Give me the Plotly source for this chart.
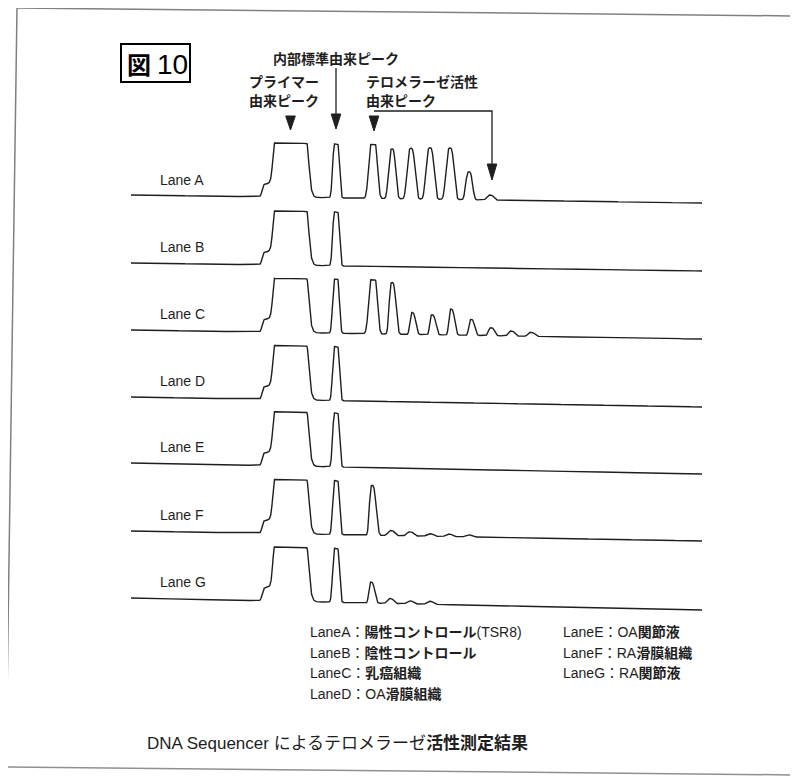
import numpy as np
import plotly.graph_objects as go

# ---------------- data ----------------
lanes = ["Lane A", "Lane B", "Lane C", "Lane D", "Lane E", "Lane F", "Lane G"]

# primer peak (saturated block) and its shoulder, migration position units
primer_rise = 273.5
primer_fall = 308.5
primer_shoulder_start = 262.0
primer_shoulder_height = 13.0
primer_height = 75.0

# internal standard peak
std_pos = 336.0
std_height = 64.0
std_sigma = 3.0

saturation = 54.0

# telomerase ladder peaks: positions, heights, widths (left / right)
tel_pos = {
    "Lane A": [373, 392, 411, 430, 450, 469, 490],
    "Lane B": [],
    "Lane C": [373, 392, 412, 432, 451, 471, 491, 511, 531],
    "Lane D": [],
    "Lane E": [],
    "Lane F": [372, 391, 410, 430, 449, 469],
    "Lane G": [371, 390, 410, 430],
}
tel_height = {
    "Lane A": [64, 50, 51, 52, 52, 28, 5],
    "Lane B": [],
    "Lane C": [64, 52, 22, 20, 26, 16, 8, 5, 4],
    "Lane D": [],
    "Lane E": [],
    "Lane F": [50, 5, 4, 2.5, 2.5, 2],
    "Lane G": [21, 5, 3, 3],
}
tel_width_left = {
    "Lane A": [4.0, 3.4, 3.8, 3.9, 3.9, 3.2, 3.2],
    "Lane B": [],
    "Lane C": [4.0, 2.8, 2.2, 2.2, 2.2, 2.2, 2.6, 2.8, 3.0],
    "Lane D": [],
    "Lane E": [],
    "Lane F": [2.6, 3.2, 3.2, 3.4, 3.4, 3.4],
    "Lane G": [2.2, 3.0, 3.2, 3.2],
}
tel_width_right = {
    "Lane A": [4.0, 3.6, 3.9, 3.9, 3.9, 3.4, 3.6],
    "Lane B": [],
    "Lane C": [4.0, 3.8, 3.6, 3.6, 3.6, 3.6, 3.6, 3.6, 3.6],
    "Lane D": [],
    "Lane E": [],
    "Lane F": [4.0, 3.6, 3.6, 3.6, 3.6, 3.6],
    "Lane G": [3.6, 3.6, 3.6, 3.6],
}

legend_left = ["LaneA：<b>陽性コントロール</b>(TSR8)", "LaneB：<b>陰性コントロール</b>",
               "LaneC：<b>乳癌組織</b>", "LaneD：OA<b>滑膜組織</b>"]
legend_right = ["LaneE：OA<b>関節液</b>", "LaneF：RA<b>滑膜組織</b>", "LaneG：RA<b>関節液</b>"]

caption = "DNA Sequencer によるテロメラーゼ<b>活性測定結果</b>"

# ---------------- layout constants ----------------
x_start, x_end = 131.0, 702.0
lane_base = [195, 263, 330, 397, 463, 531, 598]   # baseline at left end
lane_drift = [8, 8, 9, 10, 11, 10, 12]            # baseline drift to right end
lane_label_y = [180, 247, 314, 381, 447, 515, 582]

FONT = "Liberation Sans, Arial, Noto Sans CJK JP, sans-serif"
JFONT = "Noto Sans CJK JP, Liberation Sans, sans-serif"
INK = "#1e1e1e"
SHAPE_EXP = 3.0


def sig(z):
    return 1.0 / (1.0 + np.exp(-z))


def peak(x, p, h, wl, wr):
    w = np.where(x < p, wl, wr)
    return h * np.exp(-0.5 * np.abs((x - p) / w) ** SHAPE_EXP)


def lane_signal(x, name):
    s = primer_height * sig((x - primer_rise) / 1.1) * sig((primer_fall - x) / 1.4)
    s += primer_shoulder_height * sig((x - primer_shoulder_start) / 0.7) * sig((300 - x) / 3.0)
    s += peak(x, std_pos, std_height, std_sigma, std_sigma)
    for p, h, wl, wr in zip(tel_pos[name], tel_height[name],
                            tel_width_left[name], tel_width_right[name]):
        s += peak(x, p, h, wl, wr)
    # soft saturation of the detector
    k = 0.6
    return -np.log(np.exp(-k * s) + np.exp(-k * saturation)) / k


x = np.arange(x_start, x_end + 0.01, 0.25)
fig = go.Figure()
for i, name in enumerate(lanes):
    base = lane_base[i] + lane_drift[i] * (x - x_start) / (x_end - x_start)
    y = base - np.maximum(lane_signal(x, name), 0)
    fig.add_trace(go.Scatter(x=x, y=y, mode="lines",
                             line=dict(color=INK, width=1.4),
                             hoverinfo="skip", showlegend=False))

ann = []
for i, name in enumerate(lanes):
    ann.append(dict(x=158, y=lane_label_y[i], text=name, xanchor="left",
                    yanchor="middle", showarrow=False,
                    font=dict(family=FONT, size=14, color=INK)))


def jtext(xx, yy, t, size=14):
    return dict(x=xx, y=yy, text=t, xanchor="left", yanchor="middle",
                showarrow=False, font=dict(family=JFONT, size=size, color=INK))


ann += [
    jtext(271, 58, "<b>内部標準由来ピーク</b>"),
    jtext(247, 81, "<b>プライマー</b>"),
    jtext(247, 100, "<b>由来ピーク</b>"),
    jtext(364, 81, "<b>テロメラーゼ活性</b>"),
    jtext(364, 100, "<b>由来ピーク</b>"),
]

for k, t in enumerate(legend_left):
    ann.append(dict(x=308, y=632 + 20.7 * k, text=t, xanchor="left", yanchor="middle",
                    showarrow=False, font=dict(family=FONT, size=14, color=INK)))
for k, t in enumerate(legend_right):
    ann.append(dict(x=561, y=632 + 20.7 * k, text=t, xanchor="left", yanchor="middle",
                    showarrow=False, font=dict(family=FONT, size=14, color=INK)))

ann.append(dict(x=145, y=743, text=caption, xanchor="left", yanchor="middle",
                showarrow=False, font=dict(family=FONT, size=17, color=INK)))

ann.append(dict(x=125, y=63, text="<b>図</b>", xanchor="left", yanchor="middle",
                showarrow=False, font=dict(family=JFONT, size=24, color="#000")))
ann.append(dict(x=155, y=64, text="10", xanchor="left", yanchor="middle",
                showarrow=False, font=dict(family=FONT, size=28, color="#000")))

shapes = []


def tri(cx, ytop, ybot, hw=4.8):
    return dict(type="path", xref="x", yref="y",
                path=f"M{cx-hw},{ytop} L{cx+hw},{ytop} L{cx},{ybot} Z",
                fillcolor=INK, line=dict(color=INK, width=1))


shapes += [
    tri(290.5, 116, 130),
    tri(336, 114, 129),
    dict(type="line", xref="x", yref="y", x0=336, y0=68, x1=336, y1=116,
         line=dict(color=INK, width=1.3)),
    tri(374, 116, 131),
    dict(type="path", xref="x", yref="y", path="M374,111 L492,111 L492,166",
         line=dict(color=INK, width=1.3)),
    tri(492, 164, 180),
    dict(type="rect", xref="x", yref="y", x0=121, y0=44, x1=190, y1=82,
         line=dict(color="#000", width=2)),
    dict(type="path", xref="x", yref="y", path="M17,8 L800,16",
         line=dict(color="#808080", width=1.5)),
    dict(type="path", xref="x", yref="y", path="M17,8 L6,767",
         line=dict(color="#808080", width=1.5)),
    dict(type="path", xref="x", yref="y", path="M6,767 L800,775",
         line=dict(color="#909090", width=1.5)),
]

# page body has an 8 px margin; the axes start at that offset so 1 unit = 1 px
fig.update_layout(
    width=790, height=769,
    margin=dict(l=0, r=0, t=0, b=0),
    paper_bgcolor="white", plot_bgcolor="white",
    xaxis=dict(range=[8, 798], visible=False, fixedrange=True),
    yaxis=dict(range=[777, 8], visible=False, fixedrange=True),
    annotations=ann, shapes=shapes,
)

fig.write_html("out.html")
